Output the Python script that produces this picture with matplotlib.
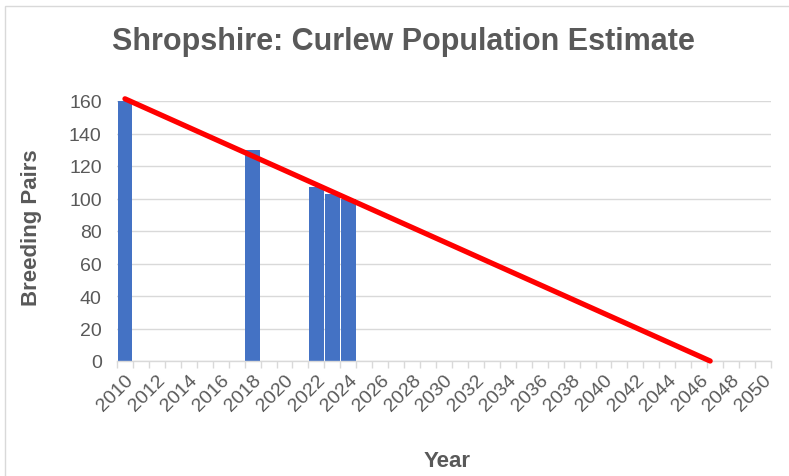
import numpy as np
import matplotlib
matplotlib.use("Agg")
import matplotlib.pyplot as plt
from matplotlib.patches import Rectangle

years = list(range(2010, 2051))
obs_years = [2010, 2018, 2022, 2023, 2024]
breeding_pairs = [160, 130, 107, 103, 100]
y_ticks = [0, 20, 40, 60, 80, 100, 120, 140, 160]

plt.rcParams['font.family'] = ['Liberation Sans', 'DejaVu Sans']
grey = '#595959'

fig = plt.figure(figsize=(7.89, 4.77), dpi=100)
ax = fig.add_axes([117/789, 1-362/477, (771-117)/789, (362-102)/477])

idx = [years.index(y) for y in obs_years]
ax.bar(idx, breeding_pairs, width=0.93, color='#4472C4', zorder=2)

# linear trendline (least squares, as Excel), extended until it reaches zero
slope, intercept = np.polyfit(np.array(obs_years) - 2010, breeding_pairs, 1)
x_zero = -intercept / slope
xs = np.array([0, x_zero])
ax.plot(xs, intercept + slope * xs, color='#FF0000', lw=3.8,
        solid_capstyle='round', zorder=3, clip_on=False)

ax.set_xlim(-0.5, len(years) - 0.5)
ax.set_ylim(0, 160)
ax.set_yticks(y_ticks)
ax.yaxis.grid(True, color='#d9d9d9', lw=1)
ax.set_axisbelow(True)
for s in ['left', 'right', 'top']:
    ax.spines[s].set_visible(False)
ax.spines['bottom'].set_color('#d9d9d9')
ax.spines['bottom'].set_linewidth(1)
ax.tick_params(axis='y', length=0, labelsize=14, labelcolor=grey, pad=11)

# category tick marks at boundaries
ax.set_xticks(np.arange(-0.5, len(years)), minor=True)
ax.tick_params(axis='x', which='minor', length=5, color='#d9d9d9', width=1)
ax.set_xticks(range(0, len(years), 2))
ax.set_xticklabels([str(y) for y in years[::2]], rotation=45, ha='right',
                   rotation_mode='anchor')
ax.tick_params(axis='x', which='major', length=0, labelsize=14,
               labelcolor=grey, pad=7)

fig.text(403/789, 1-42/477, 'Shropshire: Curlew Population Estimate',
         ha='center', va='center', fontsize=22, fontweight='bold', color=grey)
fig.text(32/789, 1-228/477, 'Breeding Pairs', ha='center', va='center',
         rotation=90, fontsize=16, fontweight='bold', color=grey)
fig.text(447/789, 1-462/477, 'Year', ha='center', va='center',
         fontsize=16, fontweight='bold', color=grey)

fig.patches.append(Rectangle((5/789, -0.1), 1.1, 1.1 - 7/477 + 0.0,
                             transform=fig.transFigure, fill=False,
                             edgecolor='#d9d9d9', lw=1))

fig.savefig('out.png', dpi=100)
